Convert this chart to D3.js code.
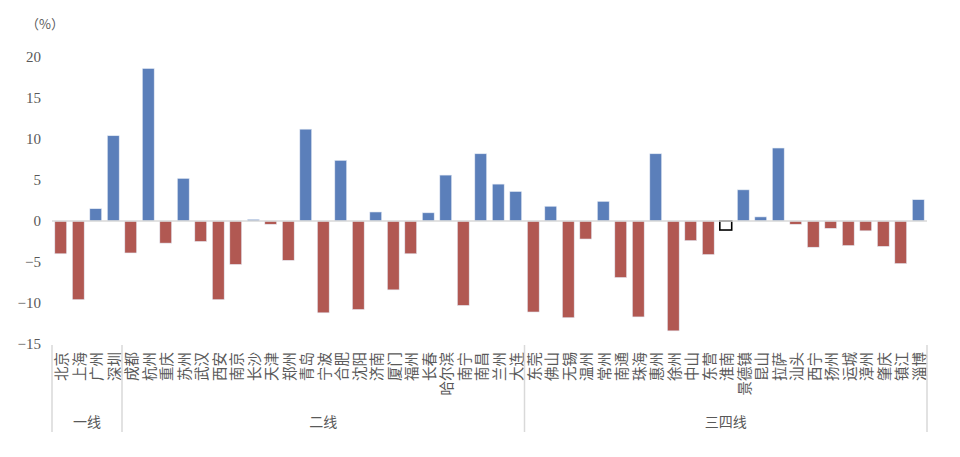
<!DOCTYPE html>
<html>
<head>
<meta charset="utf-8">
<script src="https://cdn.jsdelivr.net/npm/d3@7"></script>
<style>
  body { margin: 0; background: #fff; }
  text { font-family: "Liberation Serif", "Noto Sans CJK SC", serif; fill: #595959; }
  .cjk { font-family: "Noto Sans CJK SC", sans-serif; }
</style>
</head>
<body>
<svg width="960" height="457"></svg>
<script>
var cities = ["北京","上海","广州","深圳",
  "成都","杭州","重庆","苏州","武汉","西安","南京","长沙","天津","郑州","青岛","宁波","合肥","沈阳","济南","厦门","福州","长春","哈尔滨","南宁","南昌","兰州","大连",
  "东莞","佛山","无锡","温州","常州","南通","珠海","惠州","徐州","中山","东营","淮南","景德镇","昆山","拉萨","汕头","西宁","扬州","运城","漳州","肇庆","镇江","淄博"];

var values = [-4.0, -9.6, 1.5, 10.4,
  -3.9, 18.6, -2.7, 5.2, -2.5, -9.6, -5.3, 0.2, -0.4, -4.8, 11.2, -11.2, 7.4, -10.8, 1.1, -8.4, -4.0, 1.0, 5.6, -10.3, 8.2, 4.5, 3.6,
  -11.1, 1.8, -11.8, -2.2, 2.4, -6.9, -11.7, 8.2, -13.4, -2.4, -4.1, -1.1, 3.8, 0.5, 8.9, -0.4, -3.2, -0.9, -3.0, -1.2, -3.1, -5.2, 2.6];

var groups = ["一线", "二线", "三四线"];
var groupSizes = [4, 23, 23];
var highlighted = ["淮南"];
var yTicks = [-15, -10, -5, 0, 5, 10, 15, 20];

var svg = d3.select("svg");

var x = d3.scaleBand().domain(cities).range([52, 927]).paddingInner(0.32).paddingOuter(0.16),
    y = d3.scaleLinear().domain([-15, 20]).range([344, 57]);

// y axis labels
var yAxis = svg.append("g")
    .attr("transform", "translate(41,0)")
    .call(d3.axisLeft(y).tickValues(yTicks).tickSize(0).tickPadding(0)
      .tickFormat(function(d) { return d < 0 ? "\u2212" + Math.abs(d) : d; }));
yAxis.select(".domain").remove();
yAxis.selectAll("text").style("font-size", "15px").style("fill", "#595959")
    .style("font-family", "'Liberation Serif', serif");

svg.append("text").attr("class", "cjk")
    .attr("x", 26).attr("y", 29)
    .style("font-size", "13px")
    .text("（%）");

// bars
svg.append("g").selectAll("rect")
  .data(cities)
  .enter().append("rect")
    .attr("x", function(d) { return x(d); })
    .attr("width", x.bandwidth())
    .attr("y", function(d, i) { return y(Math.max(0, values[i])); })
    .attr("height", function(d, i) { return Math.abs(y(values[i]) - y(0)); })
    .attr("fill", function(d, i) {
      if (highlighted.indexOf(d) >= 0) return "#fff";
      return values[i] >= 0 ? "#5b7fba" : "#b15852";
    })
    .attr("stroke", function(d) { return highlighted.indexOf(d) >= 0 ? "#000" : "#e6ecf5"; })
    .attr("stroke-width", function(d) { return highlighted.indexOf(d) >= 0 ? 1.6 : 0.6; });

// zero line
svg.append("line")
    .attr("x1", 52).attr("x2", 927)
    .attr("y1", y(0)).attr("y2", y(0))
    .attr("stroke", "#d9d9d9").attr("stroke-width", 1.5);

// city labels, rotated to read bottom-to-top
svg.append("g").selectAll("text")
  .data(cities)
  .enter().append("text")
    .attr("class", "cjk")
    .attr("text-anchor", "end")
    .attr("dominant-baseline", "central")
    .attr("transform", function(d) {
      return "translate(" + (x(d) + x.bandwidth() / 2) + ",352) rotate(-90)";
    })
    .style("font-size", "14.5px")
    .text(function(d) { return d; });

// group separators and labels
var start = 52, idx = 0;
var bounds = [start];
groupSizes.forEach(function(n) { idx += n; bounds.push(start + idx * (875 / cities.length)); });

svg.append("g").selectAll("line")
  .data(bounds)
  .enter().append("line")
    .attr("x1", function(d) { return d; }).attr("x2", function(d) { return d; })
    .attr("y1", 345).attr("y2", 432)
    .attr("stroke", "#d9d9d9").attr("stroke-width", 1.5);

svg.append("g").selectAll("text")
  .data(groups)
  .enter().append("text")
    .attr("class", "cjk")
    .attr("text-anchor", "middle")
    .attr("x", function(d, i) { return (bounds[i] + bounds[i + 1]) / 2; })
    .attr("y", 427)
    .style("font-size", "14px")
    .text(function(d) { return d; });
</script>
</body>
</html>
